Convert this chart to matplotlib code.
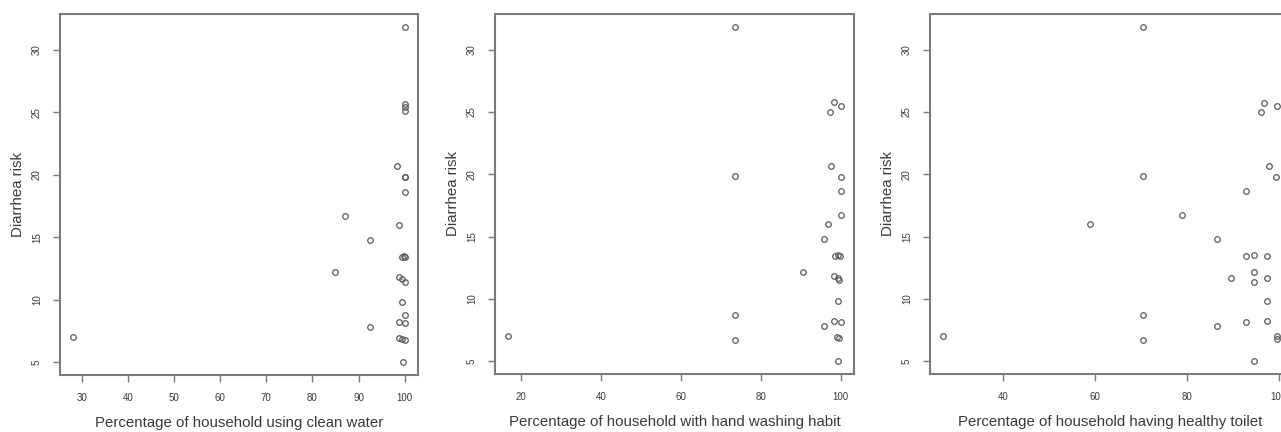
import matplotlib
matplotlib.use("Agg")
from matplotlib import pyplot as plt

plt.rcParams["font.family"] = ["Liberation Sans", "DejaVu Sans"]

# Diarrhea risk (shared y values)
risk_water = [31.8, 25.7, 25.4, 25.1, 20.7, 19.85, 19.8, 18.65, 16.7, 16.0, 14.8,
              13.45, 13.45, 13.5, 12.2, 11.85, 11.67, 11.4, 9.8, 8.8, 8.2, 8.15,
              7.8, 7.05, 6.95, 6.87, 6.8, 5.05]
pct_water = [100, 100, 100, 100, 98.3, 100, 100, 100, 87.0, 98.7, 92.5,
             100, 99.3, 99.8, 84.9, 98.7, 99.3, 100, 99.3, 100, 98.7, 100,
             92.5, 28.2, 98.7, 99.3, 100, 99.7]

risk_hand = [31.8, 25.8, 25.5, 25.0, 20.7, 19.85, 19.8, 18.65, 16.7, 16.0, 14.8,
             13.45, 13.45, 13.5, 12.2, 11.85, 11.7, 11.5, 9.8, 8.68, 8.2, 8.15,
             7.8, 7.0, 6.95, 6.87, 6.73, 5.05]
pct_hand = [73.6, 98.2, 100, 97.2, 97.6, 73.6, 100, 100, 100, 96.7, 95.7,
            99.7, 98.6, 99.2, 90.5, 98.2, 99.4, 99.6, 99.4, 73.6, 98.4, 100,
            95.7, 16.9, 99.0, 99.5, 73.6, 99.2]

risk_toilet = [31.8, 25.75, 25.5, 25.0, 20.7, 19.85, 19.8, 18.65, 16.7, 16.0, 14.8,
               13.45, 13.45, 13.5, 12.2, 11.7, 11.7, 11.4, 9.8, 8.68, 8.2, 8.15,
               7.8, 7.05, 7.0, 6.8, 6.73, 5.05]
pct_toilet = [70.5, 96.9, 99.6, 96.2, 98.0, 70.5, 99.5, 92.9, 79.0, 58.9, 86.6,
              97.4, 92.9, 94.7, 94.7, 97.4, 89.7, 94.7, 97.4, 70.5, 97.4, 92.9,
              86.6, 27.0, 99.6, 99.6, 70.5, 94.7]

panels = [
    (pct_water, risk_water, "Percentage of household using clean water",
     [30, 40, 50, 60, 70, 80, 90, 100]),
    (pct_hand, risk_hand, "Percentage of household with hand washing habit",
     [20, 40, 60, 80, 100]),
    (pct_toilet, risk_toilet, "Percentage of household having healthy toilet",
     [40, 60, 80, 100]),
]

W, H = 1281, 432
fig = plt.figure(figsize=(W / 100, H / 100), dpi=100)

# axes boxes in pixels: left, right, top, bottom
# (the third panel runs past the right edge, as in the source image)
boxes = [(60, 418, 14, 375), (495, 854, 14, 374), (930, 1290, 14, 374)]
ylabel_x = [18, 453, 888]

frame = "#7a7a7a"
txt = "#3a3a3a"

for (x, y, xlab, xt), (l, r, t, b), yl in zip(panels, boxes, ylabel_x):
    ax = fig.add_axes([l / W, (H - b) / H, (r - l) / W, (b - t) / H])
    ax.plot(x, y, "o", ms=4.0, mfc="none", mec="#5a5a5a", mew=0.9)

    # R-like 4% padding
    xr = max(x) - min(x)
    yr = max(y) - min(y)
    ax.set_xlim(min(x) - 0.04 * xr, max(x) + 0.04 * xr)
    ax.set_ylim(min(y) - 0.04 * yr, max(y) + 0.04 * yr)

    ax.set_xticks(xt)
    ax.set_yticks([5, 10, 15, 20, 25, 30])
    for lab in ax.get_yticklabels():
        lab.set_rotation(90)
        lab.set_va("center")
    ax.tick_params(colors=frame, labelcolor=txt, labelsize=7, length=5,
                   width=1.0, direction="out", pad=8)
    for s in ax.spines.values():
        s.set_color(frame)
        s.set_linewidth(1.5)

    ax.set_xlabel(xlab, fontsize=10.8, color=txt, labelpad=9)
    fig.text(yl / W, 1 - ((t + b) / 2) / H, "Diarrhea risk", rotation=90,
             ha="center", va="center", fontsize=10.8, color=txt)

fig.savefig("out.png", dpi=100)
